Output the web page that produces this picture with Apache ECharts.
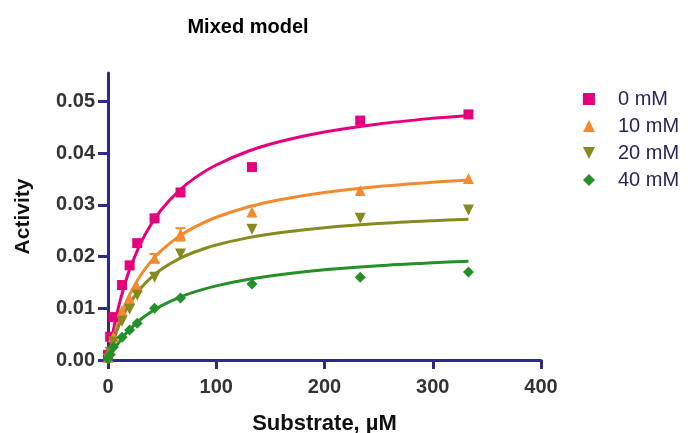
<!DOCTYPE html>
<html>
<head>
<meta charset="utf-8">
<script src="https://cdn.jsdelivr.net/npm/echarts@6/dist/echarts.min.js"></script>
<style>html,body{margin:0;padding:0;background:#fff}#c{width:691px;height:433px}</style>
</head>
<body>
<div id="c"></div>
<script>
// Substrate concentrations (µM) of the measured points
const substrate = [0, 2, 5, 13, 20, 27, 43, 67, 133, 233, 333];
// Measured activity per inhibitor concentration
const act0 = [0.0010, 0.0045, 0.0083, 0.0145, 0.0183, 0.0226, 0.0274, 0.0324, 0.0373, 0.0463, 0.0475];
const act10 = [0.0005, 0.0020, 0.0045, 0.0095, 0.0118, 0.0141, 0.0197, 0.0243, 0.0286, 0.0328, 0.0351];
const act20 = [0.0003, 0.0015, 0.0035, 0.0075, 0.0098, 0.0125, 0.0160, 0.0205, 0.0253, 0.0274, 0.0290];
const act40 = [0.0002, 0.0010, 0.0025, 0.0044, 0.0058, 0.0071, 0.0100, 0.0120, 0.0147, 0.0160, 0.0170];
const err10 = [0, 0, 0, 0, 0, 0, 0.0008, 0.0012, 0, 0, 0];
// Fitted curves
const curveX = [0, 2, 5, 10, 15, 20, 30, 40, 50, 65, 80, 100, 130, 160, 200, 250, 300, 333];
const fit0 = [0, 0.00248, 0.0058, 0.01045, 0.01427, 0.01747, 0.0225, 0.02629, 0.02924, 0.03262, 0.03517, 0.03771, 0.04042, 0.04231, 0.0441, 0.04565, 0.04674, 0.0473];
const fit10 = [0, 0.00178, 0.00417, 0.00754, 0.01032, 0.01265, 0.01633, 0.01912, 0.0213, 0.02381, 0.0257, 0.0276, 0.02963, 0.03105, 0.0324, 0.03356, 0.03439, 0.03481];
const fit20 = [0, 0.00161, 0.00373, 0.00664, 0.00898, 0.01089, 0.01383, 0.01599, 0.01764, 0.01951, 0.02088, 0.02225, 0.02367, 0.02466, 0.02558, 0.02638, 0.02693, 0.02721];
const fit40 = [0, 0.00078, 0.00185, 0.00341, 0.00475, 0.00592, 0.00783, 0.00935, 0.01057, 0.01203, 0.01317, 0.01434, 0.01562, 0.01655, 0.01745, 0.01824, 0.0188, 0.0191];
const seriesNames = ['0 mM', '10 mM', '20 mM', '40 mM'];
const yTicks = [0, 0.01, 0.02, 0.03, 0.04, 0.05];
const xTicks = [0, 100, 200, 300, 400];

const colors = ['#e6007e', '#f4892f', '#878a1e', '#23902a'];
const symbols = ['rect', 'triangle', 'path://M0,0 L10,0 L5,10 Z', 'diamond'];
const symSizes = [10, 11, 11, 11];
const acts = [act0, act10, act20, act40];
const fits = [fit0, fit10, fit20, fit40];
const axisColor = '#2e2b85';

const pair = (xs, ys) => xs.map((x, i) => [x, ys[i]]);

const series = [];
fits.forEach((f, i) => {
  series.push({
    name: 'fit' + i, type: 'line', smooth: 0.3, showSymbol: false, silent: true,
    data: pair(curveX, f), lineStyle: { color: colors[i], width: 3 }, z: 2
  });
});
series.push({
  name: 'err10', type: 'custom', z: 3, silent: true,
  data: substrate.map((x, i) => [x, act10[i], err10[i]]).filter(d => d[2] > 0),
  renderItem: function (params, api) {
    const x = api.value(0), y = api.value(1), e = api.value(2);
    const top = api.coord([x, y + e]);
    const bot = api.coord([x, y - e]);
    const w = 5;
    return {
      type: 'group', children: [
        { type: 'line', shape: { x1: top[0], y1: top[1], x2: bot[0], y2: bot[1] }, style: { stroke: colors[1], lineWidth: 2 } },
        { type: 'line', shape: { x1: top[0] - w, y1: top[1], x2: top[0] + w, y2: top[1] }, style: { stroke: colors[1], lineWidth: 2 } },
        { type: 'line', shape: { x1: bot[0] - w, y1: bot[1], x2: bot[0] + w, y2: bot[1] }, style: { stroke: colors[1], lineWidth: 2 } }
      ]
    };
  }
});
acts.forEach((a, i) => {
  series.push({
    name: seriesNames[i], type: 'scatter', symbol: symbols[i], symbolSize: symSizes[i],
    data: pair(substrate, a), itemStyle: { color: colors[i], opacity: 1 }, z: 4
  });
});

const chart = echarts.init(document.getElementById('c'), null, { renderer: 'canvas' });
chart.setOption({
  animation: false,
  backgroundColor: '#ffffff',
  title: {
    text: 'Mixed model', left: 243, top: 12, textAlign: 'center',
    textStyle: { fontFamily: '"Liberation Sans", Arial, sans-serif', fontWeight: 'bold', fontSize: 20, color: '#000' }
  },
  legend: {
    orient: 'vertical', left: 578, top: 84, itemWidth: 12, itemHeight: 12, itemGap: 7,
    data: seriesNames.map((n, i) => ({ name: n, icon: symbols[i] })),
    textStyle: { fontFamily: '"Liberation Sans", Arial, sans-serif', fontSize: 20, color: '#26265a', padding: [0, 0, 0, 18] }
  },
  grid: { left: 108, right: 150, top: 73, bottom: 73, containLabel: false, outerBoundsMode: 'none' },
  xAxis: {
    type: 'value', min: 0, max: 400, interval: 100,
    name: 'Substrate, µM', nameLocation: 'middle', nameGap: 53,
    nameTextStyle: { fontFamily: '"Liberation Sans", Arial, sans-serif', fontWeight: 'bold', fontSize: 22, color: '#111' },
    axisLine: { show: true, onZero: false, lineStyle: { color: axisColor, width: 3 } },
    axisTick: { show: true, length: 9, lineStyle: { color: axisColor, width: 3 } },
    axisLabel: { margin: 17, fontFamily: '"Liberation Sans", Arial, sans-serif', fontWeight: 'bold', fontSize: 20, color: '#333', formatter: v => xTicks.includes(v) ? String(v) : '' },
    splitLine: { show: false }
  },
  yAxis: {
    type: 'value', min: 0, max: 0.0555,
    name: 'Activity', nameLocation: 'middle', nameGap: 74, nameRotate: 90,
    nameTextStyle: { fontFamily: '"Liberation Sans", Arial, sans-serif', fontWeight: 'bold', fontSize: 21, color: '#111' },
    axisLine: { show: true, onZero: false, lineStyle: { color: axisColor, width: 3 } },
    axisTick: { show: true, length: 10, customValues: yTicks, lineStyle: { color: axisColor, width: 3 } },
    axisLabel: { margin: 13, customValues: yTicks, fontFamily: '"Liberation Sans", Arial, sans-serif', fontWeight: 'bold', fontSize: 20, color: '#333', formatter: v => v.toFixed(2) },
    splitLine: { show: false }
  },
  series: series
});
</script>
</body>
</html>
